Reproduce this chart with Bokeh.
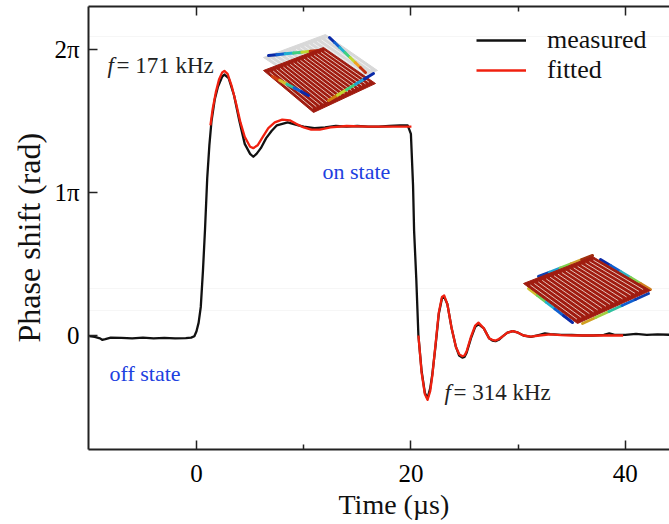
from bokeh.plotting import figure
from bokeh.embed import file_html
from bokeh.resources import INLINE
from bokeh.core.properties import value
from bokeh.models import FixedTicker, LinearAxis, Legend, LegendItem, Span, Title

SERIF = "Liberation Serif"

measured_t = [-10.0,-9.5,-9.0,-8.8,-8.5,-8,-7,-6,-5,-4,-3,-2,-1,-0.5,-0.2,0,0.2,0.4,0.6,0.8,1.0,1.2,1.4,1.7,2.0,2.4,2.6,3.0,3.5,4.0,4.5,5.0,5.3,5.6,6,6.5,7,7.5,8,8.5,9,9.5,10,11,12,13,14,15,16,17,18,19,19.7,20.0,20.2,20.3,20.5,20.7,21.0,21.3,21.55,21.8,22.0,22.3,22.6,22.9,23.1,23.4,23.8,24.2,24.5,24.8,25.0,25.2,25.6,26,26.3,26.8,27.3,27.6,27.9,28.2,28.5,29.0,29.5,30,30.5,31.2,32,32.5,33,34,35,36,37,38,38.5,39,40,41,42,43,44.2]
measured_y = [-0.005,-0.01,-0.02,-0.03,-0.025,-0.015,-0.017,-0.02,-0.015,-0.02,-0.017,-0.02,-0.018,-0.015,-0.005,0.03,0.09,0.2,0.45,0.75,1.1,1.33,1.5,1.65,1.74,1.81,1.825,1.80,1.68,1.5,1.34,1.27,1.25,1.27,1.31,1.38,1.43,1.47,1.48,1.49,1.48,1.47,1.46,1.45,1.455,1.465,1.46,1.465,1.46,1.46,1.465,1.47,1.47,1.41,1.05,0.73,0.4,0.0,-0.25,-0.40,-0.44,-0.37,-0.27,-0.07,0.15,0.26,0.27,0.22,0.05,-0.08,-0.14,-0.155,-0.15,-0.12,-0.02,0.06,0.08,0.05,-0.02,-0.035,-0.04,-0.03,-0.01,0.02,0.03,0.02,0.0,-0.01,0.005,0.015,0.01,0.005,0.005,0.0,0.0,0.005,0.015,0.005,0.005,0.012,0.005,0.008,0.005]

fit_on_t = [1.3,1.5,1.8,2.1,2.4,2.6,2.9,3.3,3.7,4.1,4.5,5,5.3,5.7,6.2,6.7,7.3,8,8.7,9.3,10,10.7,11.5,12.5,14,16,18,20.05]
fit_on_y = [1.47,1.58,1.7,1.79,1.84,1.85,1.83,1.74,1.62,1.49,1.39,1.32,1.31,1.33,1.39,1.45,1.49,1.51,1.505,1.48,1.455,1.44,1.44,1.455,1.465,1.46,1.46,1.46]
fit_off_t = [20.7,21.0,21.3,21.55,21.8,22,22.3,22.6,22.9,23.1,23.4,23.8,24.2,24.5,24.8,25.0,25.2,25.6,26,26.3,26.8,27.3,27.6,27.9,28.2,28.5,29.0,29.5,30,30.5,31.2,32,33,34,35,37,39.8]
fit_off_y = [0.0,-0.26,-0.41,-0.45,-0.39,-0.28,-0.06,0.16,0.27,0.28,0.22,0.05,-0.08,-0.13,-0.145,-0.14,-0.11,-0.01,0.07,0.09,0.05,-0.02,-0.03,-0.035,-0.025,-0.01,0.02,0.03,0.02,0.0,-0.008,0.0,0.008,0.003,0.0,0.0,0.0]

x_ticks = [0, 20, 40]
x_minor = [10, 30]
y_ticks = [0, 1, 2]
y_labels = {0: "0", 1: "1π", 2: "2π"}

def X(px): return (px - 196) / 10.72
def Y(py): return (335 - py) / 143

p = figure(width=669, height=524, output_backend="svg", toolbar_location=None,
           x_range=(X(88), X(669)), y_range=(Y(449), Y(6)),
           min_border_left=88, min_border_right=0, min_border_top=6, min_border_bottom=75)
p.outline_line_color = None
p.grid.visible = False

for ax, ticks in ((p.xaxis[0], x_ticks), (p.yaxis[0], y_ticks)):
    ax.axis_line_width = 2
    ax.axis_line_color = "#222222"
    ax.major_tick_line_color = "#222222"
    ax.major_tick_line_width = 1.5
    ax.minor_tick_line_color = "#222222"
    ax.minor_tick_line_width = 1.5
    ax.major_tick_in = 9
    ax.major_tick_out = 0
    ax.minor_tick_in = 5
    ax.minor_tick_out = 0
    ax.major_label_text_font = SERIF
    ax.major_label_text_font_size = "25px"
    ax.major_label_text_color = "#000000"
    ax.ticker = FixedTicker(ticks=ticks, minor_ticks=x_minor if ticks is x_ticks else [])
p.xaxis[0].major_label_standoff = 15
p.yaxis[0].major_label_standoff = 9
p.yaxis[0].major_label_overrides = y_labels

top = LinearAxis(ticker=FixedTicker(ticks=x_ticks, minor_ticks=x_minor),
                 axis_line_width=2, axis_line_color="#222222",
                 major_tick_line_color="#222222", major_tick_line_width=1.5,
                 minor_tick_line_color="#222222", minor_tick_line_width=1.5,
                 major_tick_in=9, major_tick_out=0, minor_tick_in=5, minor_tick_out=0,
                 major_label_overrides={t: "" for t in x_ticks},
                 major_label_text_font_size="1px", major_label_standoff=0)
p.add_layout(top, "above")

# axis titles: off-centre in the reference, so placed as side titles with an offset
p.add_layout(Title(text="Time (µs)", align="left", offset=250, standoff=4,
                   text_font=SERIF, text_font_size="28px", text_font_style="normal",
                   text_color="#111111"), "below")
p.add_layout(Title(text="Phase shift (rad)", align="left", offset=107, standoff=10,
                   text_font=SERIF, text_font_size="32px", text_font_style="normal",
                   text_color="#111111"), "left")

# very faint scan lines in the background
for py in (36, 288, 310):
    p.add_layout(Span(location=Y(py), dimension="width", line_color="#f6f6f6", line_width=1, level="underlay"))

# ---- inset plates (decoration, drawn in pixel-derived coordinates) ----
def lerp(a, b, f): return (a[0] + (b[0] - a[0]) * f, a[1] + (b[1] - a[1]) * f)

def grad(a, b, colors, width=3):
    n = len(colors)
    for i, c in enumerate(colors):
        s, e = lerp(a, b, i / n), lerp(a, b, (i + 1) / n)
        p.line([X(s[0]), X(e[0])], [Y(s[1]), Y(e[1])], line_color=c, line_width=width, line_cap="round")

def plate(c, fill, stripes=0, stripe_color="#ecd4cc"):
    p.patch([X(q[0]) for q in c], [Y(q[1]) for q in c], fill_color=fill, line_color=fill, line_width=1)
    for i in range(stripes):
        f = (i + 0.8) / (stripes + 0.6)
        s = lerp(lerp(c[0], c[1], f), lerp(c[3], c[2], f), 0.07)
        e = lerp(lerp(c[0], c[1], f), lerp(c[3], c[2], f), 0.93)
        p.line([X(s[0]), X(e[0])], [Y(s[1]), Y(e[1])], line_color=stripe_color, line_width=0.9)

RAIN = ["#0a2aa8", "#1060d0", "#20b0d0", "#40d080", "#c0d830", "#f0a020", "#c03010"]

# upper plate
plate([(263, 57), (325, 34), (377, 70), (315, 92)], "#d8d8d8", 14, "#f4f4f4")
grad((268, 55), (318, 50), RAIN[:5] + ["#c03010"])
grad((329, 37), (365, 72), RAIN)
plate([(263, 70), (323, 47), (375, 83), (313, 112)], "#a01c10", 17)
grad((272, 76), (308, 95), ["#d04010", "#d0c030", "#30c0a0", "#1060d0", "#0a2aa8"])
grad((328, 100), (373, 73), ["#d08010", "#c0d830", "#40d080", "#20a0d0", "#0a2aa8"])

# lower plate
grad((538, 276), (592, 255), ["#1040b0", "#20a0d0", "#80d050", "#d0a030", "#a03010"])
grad((600, 259), (650, 289), ["#0a2aa8", "#1060d0", "#30b0c0", "#80d050", "#d08020"])
grad((528, 288), (572, 322), ["#d0c030", "#70d060", "#20b0d0", "#1060d0", "#0a2aa8"])
grad((582, 323), (648, 293), ["#d0a020", "#a0d040", "#30c0a0", "#1060d0", "#1040b0"])
plate([(523, 283), (592, 256), (650, 290), (577, 323)], "#a01c10", 17)

# ---- curves ----
r_m = p.line(measured_t, measured_y, line_color="#111111", line_width=2.3, line_join="round")
r_f = p.line(fit_on_t, fit_on_y, line_color="#f0200f", line_width=2.3, line_join="round")
p.line(fit_off_t, fit_off_y, line_color="#f0200f", line_width=2.3, line_join="round")

legend = Legend(items=[LegendItem(label="measured", renderers=[r_m]),
                       LegendItem(label="fitted", renderers=[r_f])],
                location=(388, 364), orientation="vertical",
                background_fill_alpha=0, border_line_color=None,
                glyph_width=50, glyph_height=20, label_height=20,
                spacing=0, label_standoff=21, padding=0, margin=0,
                label_text_font=SERIF, label_text_font_size="26px", label_text_color="#111111")
p.add_layout(legend, "center")

# ---- annotations ----
def note(px, py, txt, color="#222222", style="normal", size="22px"):
    p.text([X(px)], [Y(py)], text=[txt], text_font=value(SERIF), text_font_size=size,
           text_color=color, text_baseline="middle", text_align="left", text_font_style=style)

note(107, 65, "f", style="italic", size="23px")
note(116, 65, "= 171 kHz", size="23px")
note(444, 392, "f", style="italic", size="23px")
note(453, 392, "= 314 kHz", size="23px")
note(322, 171, "on state", "#2040e0")
note(109, 373, "off state", "#2040e0")

open("out.html", "w").write(file_html(p, INLINE))
